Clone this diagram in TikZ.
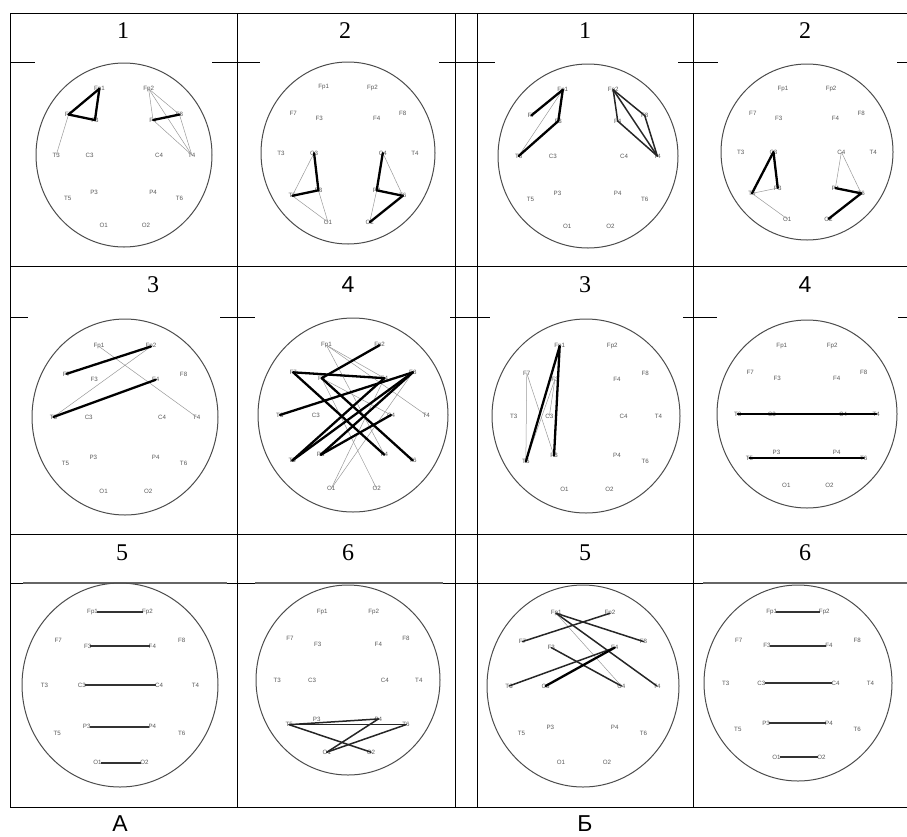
\documentclass[tikz,border=0pt]{standalone}
\usepackage{fontspec}
\setmainfont{Liberation Serif}
\newfontfamily\labfont{Liberation Sans}
\tikzset{
 tbl/.style={line width=0.8pt},
 headc/.style={draw=black!70, line width=1pt},
 lab/.style={font=\labfont\fontsize{6.2}{6.2}\selectfont, text=black!65, inner sep=0pt},
 thk/.style={line width=2.3pt, line cap=round, line join=round},
 mid/.style={line width=1.5pt, line cap=round, draw=black!85},
 thn/.style={line width=0.5pt, draw=black!40},
 bar/.style={line width=2pt, draw=black!80, shorten <=-1pt, shorten >=-1pt},
 num/.style={font=\fontsize{24}{24}\selectfont, inner sep=0pt},
 snum/.style={font=\labfont\fontsize{23}{23}\selectfont, inner sep=0pt},
}
\newcommand\electrodes[1]{%
 \node[lab] (#1Fp1) at (-0.28,0.72) {Fp1};
 \node[lab] (#1Fp2) at (0.28,0.72) {Fp2};
 \node[lab] (#1F7) at (-0.63,0.44) {F7};
 \node[lab] (#1F3) at (-0.33,0.38) {F3};
 \node[lab] (#1F4) at (0.33,0.38) {F4};
 \node[lab] (#1F8) at (0.63,0.44) {F8};
 \node[lab] (#1T3) at (-0.77,0) {T3};
 \node[lab] (#1C3) at (-0.39,0) {C3};
 \node[lab] (#1C4) at (0.40,0) {C4};
 \node[lab] (#1T4) at (0.77,0) {T4};
 \node[lab] (#1T5) at (-0.64,-0.47) {T5};
 \node[lab] (#1P3) at (-0.34,-0.41) {P3};
 \node[lab] (#1P4) at (0.33,-0.41) {P4};
 \node[lab] (#1T6) at (0.63,-0.47) {T6};
 \node[lab] (#1O1) at (-0.23,-0.76) {O1};
 \node[lab] (#1O2) at (0.25,-0.76) {O2};
}
\newcommand\panel[5]{%
 \begin{scope}[shift={(#2,#3)}, x=#4pt, y=#5pt]
  \draw[headc] (0,0) ellipse [x radius=1, y radius=1];
  \electrodes{#1}
 \end{scope}}
\newcommand\edg[3]{\foreach \u/\v in {#3}{\draw[#2] (#1\u.center) -- (#1\v.center);}}
\newcommand\edgb[3]{\foreach \u/\v in {#3}{\draw[#2] (#1\u.east) -- (#1\v.west);}}
\begin{document}
\begin{tikzpicture}[x=1pt,y=-1pt]
\useasboundingbox (0,0) rectangle (907,836);
% table
\draw[tbl] (10,13) -- (907,13);
\draw[tbl] (10,266) -- (907,266);
\draw[tbl] (10,534) -- (907,534);
\draw[tbl] (10,807) -- (907,807);
\foreach \xx in {10,237,455,477,693} \draw[tbl] (\xx,13) -- (\xx,807);
% header lines row 1
\foreach \a/\b in {10/35,212/260,439/495,678/718,897/907} \draw[tbl] (\a,62) -- (\b,62);
% header lines row 2
\foreach \a/\b in {10/28,220/255,450/490,683/717,898/907} \draw[tbl] (\a,317) -- (\b,317);
% header line row 3
\draw[tbl] (10,583) -- (907,583);
\foreach \a/\b in {23/227,255/443,703/907} \draw[line width=1.5pt, draw=black!60] (\a,583) -- (\b,583);
% numbers
\node[num] (n1a) at (123,31) {1};
\node[num] (n2a) at (345,31) {2};
\node[num] (n1b) at (585,31) {1};
\node[num] (n2b) at (805,31) {2};
\node[num] (n3a) at (153,285) {3};
\node[snum] (n4a) at (348,285) {4};
\node[num] (n3b) at (585,285) {3};
\node[snum] (n4b) at (805,285) {4};
\node[num] (n5a) at (122,553) {5};
\node[num] (n6a) at (348,553) {6};
\node[num] (n5b) at (585,553) {5};
\node[num] (n6b) at (805,553) {6};
\node[snum] (labA) at (120,824) {А};
\node[snum] (labB) at (585,824) {Б};
% panels
\panel{a1}{124}{155}{88}{92}
\panel{a2}{348}{153}{87}{91}
\panel{b1}{588}{156}{90}{92}
\panel{b2}{807}{152}{86}{88}
\panel{a3}{125}{417}{93}{98}
\panel{a4}{353}{415}{95}{97}
\panel{b3}{586}{416}{94}{97}
\panel{b4}{807}{414}{90}{94}
\panel{a5}{120}{685}{98}{102}
\panel{a6}{348}{680}{92}{95}
\panel{b5}{583}{686}{96}{101}
\panel{b6}{798}{683}{94}{98}
% A1
\edg{a1}{thn}{F7/T3,Fp2/F4,Fp2/F8,Fp2/T4,F4/T4,F8/T4}
\edg{a1}{thk}{Fp1/F7,F7/F3,F3/Fp1,F4/F8}
% A2
\edg{a2}{thn}{C3/T5,T5/O1,P3/O1,C4/T6,P4/O2}
\edg{a2}{thk}{C3/P3,P3/T5,C4/P4,P4/T6,T6/O2}
% B1
\edg{b1}{thn}{Fp1/T3}
\edg{b1}{thk}{F7/Fp1,Fp1/F3,F3/T3}
\edg{b1}{mid}{Fp2/F8,F8/T4,Fp2/T4,F4/T4,Fp2/F4}
% B2
\edg{b2}{thn}{T5/P3,T5/O1,C4/P4,C4/T6}
\edg{b2}{thk}{C3/T5,C3/P3,P4/T6,T6/O2}
% A3
\edg{a3}{thn}{Fp2/T3,Fp1/T4}
\edg{a3}{thk}{F7/Fp2,T3/F4}
% A4
\edg{a4}{thn}{Fp1/T4,Fp1/F4,O1/F8,O1/F4,O2/F3,F3/C4,Fp1/P4}
\edg{a4}{thk}{F7/F4,Fp2/F3,F7/P4,F3/T6,T3/F8,T5/F4,T5/F8,F8/P3,P3/C4}
% B3
\edg{b3}{thn}{F7/T5,F7/P3,F3/T5,F3/C3}
\edg{b3}{thk}{Fp1/T5,Fp1/P3}
% B4
\edg{b4}{thk}{T3/T4,T5/T6}
% A5
\edgb{a5}{bar}{Fp1/Fp2,F3/F4,C3/C4,P3/P4,O1/O2}
% A6
\edg{a6}{mid}{T5/T6,T5/P4,P4/O1,T6/O1,T5/O2}
% B5
\edg{b5}{thn}{Fp1/C4}
\edg{b5}{mid}{Fp1/F8,Fp1/T4,Fp2/F7,F3/C4,F4/T3}
\edg{b5}{thk}{F4/C3}
% B6
\edgb{b6}{bar}{Fp1/Fp2,F3/F4,C3/C4,P3/P4,O1/O2}
\end{tikzpicture}
\end{document}
